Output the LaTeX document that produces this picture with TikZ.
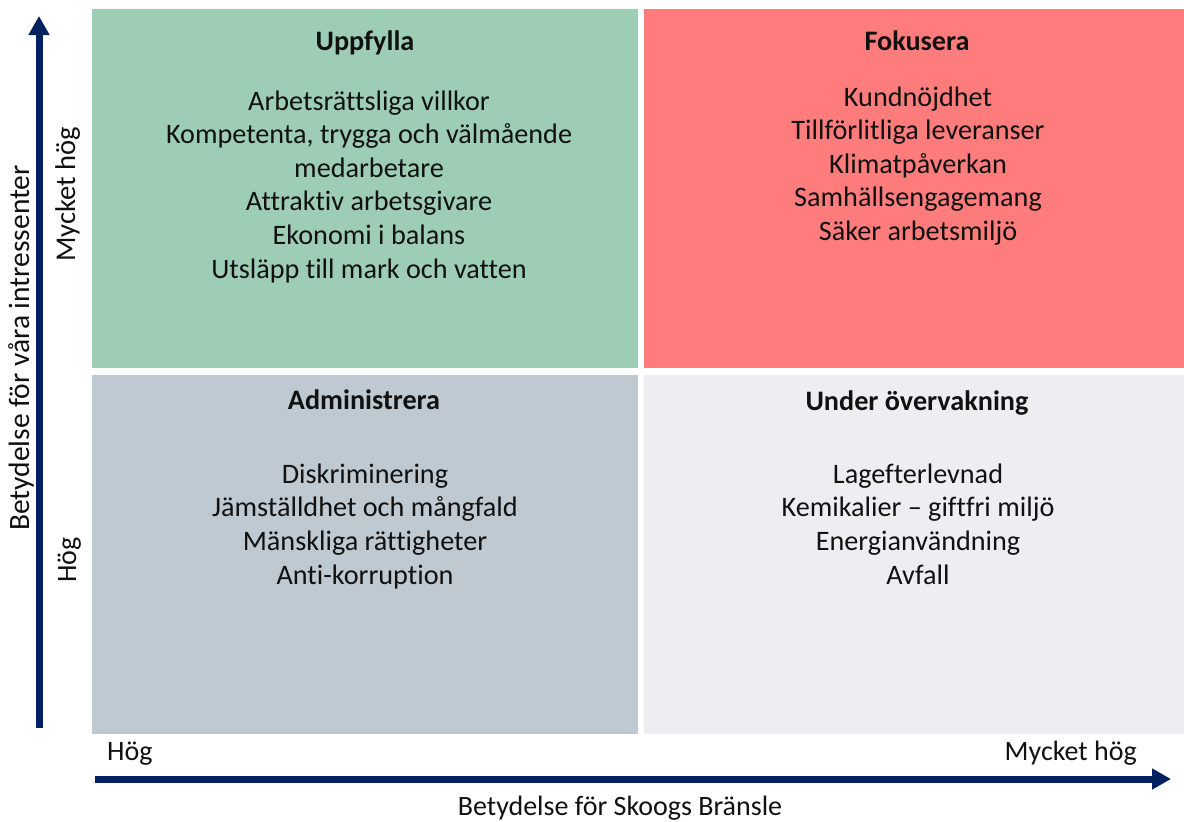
\documentclass[tikz,border=0pt]{standalone}
\usepackage{fontspec}
\setmainfont{Carlito}[Ligatures=NoCommon]
\usetikzlibrary{arrows.meta}
\definecolor{qgreen}{HTML}{9DCDB5}
\definecolor{qred}{HTML}{FF7C7C}
\definecolor{qgray}{HTML}{BFC9D1}
\definecolor{qlight}{HTML}{EDEEF2}
\definecolor{navy}{HTML}{002060}
\definecolor{txt}{HTML}{111111}
\tikzset{
  quad/.style={draw=none, inner sep=0pt},
  item/.style={anchor=base, inner sep=0pt, text=txt, font=\fontsize{28.2}{34}\selectfont},
  title/.style={anchor=base, inner sep=0pt, text=txt, font=\fontsize{28.2}{34}\selectfont\bfseries},
  axlab/.style={anchor=base, inner sep=0pt, text=txt, font=\fontsize{28}{34}\selectfont},
  axis/.style={draw=navy, line width=7pt, -{Triangle[width=20pt,length=19pt]}}
}
\begin{document}
\begin{tikzpicture}[x=1pt,y=-1pt]
\useasboundingbox (0,0) rectangle (1184,822);
% quadrants
\fill[qgreen] (92,9) rectangle (637.5,367.5);
\fill[qred] (644,9) rectangle (1184,367.5);
\fill[qgray] (92,375) rectangle (637.5,733.5);
\fill[qlight] (644,375) rectangle (1184,733.5);
% titles
\node[title] (tU) at (365,50) {Uppfylla};
\node[title] (tF) at (917,50) {Fokusera};
\node[title] (tA) at (364,409) {Administrera};
\node[title] (tO) at (917,410) {Under övervakning};
% lists
\foreach \t [count=\i] in {Arbetsrättsliga villkor,{Kompetenta, trygga och välmående},medarbetare,Attraktiv arbetsgivare,Ekonomi i balans,Utsläpp till mark och vatten}
  \node[item] (g\i) at (369,{110+(\i-1)*33.6}) {\t};
\foreach \t [count=\i] in {Kundnöjdhet,Tillförlitliga leveranser,Klimatpåverkan,Samhällsengagemang,Säker arbetsmiljö}
  \node[item] (r\i) at (918,{106+(\i-1)*33.6}) {\t};
\foreach \t [count=\i] in {Diskriminering,Jämställdhet och mångfald,Mänskliga rättigheter,Anti-korruption}
  \node[item] (a\i) at (365,{483+(\i-1)*33.8}) {\t};
\foreach \t [count=\i] in {Lagefterlevnad,Kemikalier – giftfri miljö,Energianvändning,Avfall}
  \node[item] (o\i) at (918,{483+(\i-1)*33.8}) {\t};
% axes
\coordinate (vS) at (39,728);
\coordinate (vE) at (39,16);
\coordinate (hS) at (95,779);
\coordinate (hE) at (1171,779);
\draw[axis] (vS) -- (vE);
\draw[axis] (hS) -- (hE);
% axis labels
\node[axlab, anchor=base west] (xl) at (107,760) {Hög};
\node[axlab, anchor=base east] (xh) at (1137,760) {Mycket hög};
\node[axlab] (xt) at (620,815) {Betydelse för Skoogs Bränsle};
\node[axlab, rotate=90, font=\fontsize{29.5}{35}\selectfont] (yt) at (29,348) {Betydelse för våra intressenter};
\node[axlab, rotate=90, font=\fontsize{28.6}{34}\selectfont] (yh) at (75,194) {Mycket hög};
\node[axlab, rotate=90] (yl) at (76,560) {Hög};
\end{tikzpicture}
\end{document}
